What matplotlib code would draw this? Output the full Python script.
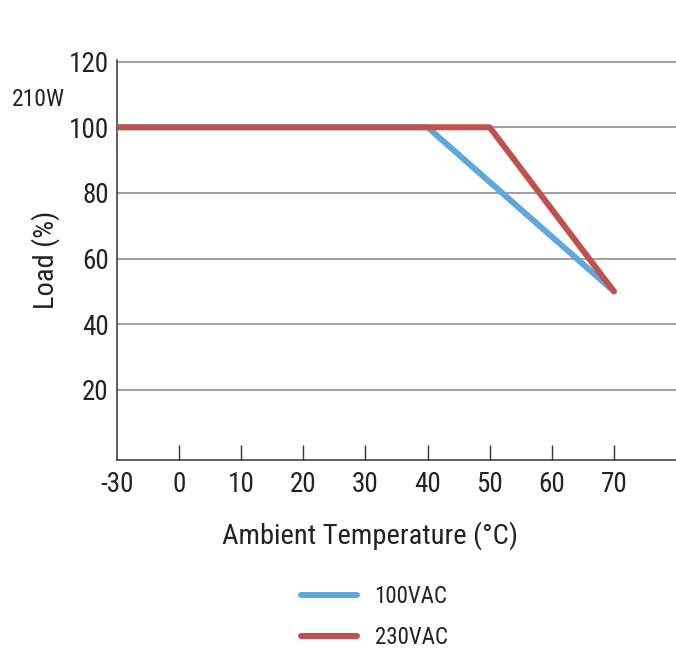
import matplotlib
matplotlib.use("Agg")
import matplotlib.pyplot as plt
import numpy as np

# Derating curve data
tick_temps = [-30, 0, 10, 20, 30, 40, 50, 60, 70]
temp_100vac = [-30, 40, 70]
load_100vac = [100, 100, 50]
temp_230vac = [-30, 50, 70]
load_230vac = [100, 100, 50]
y_ticks = [20, 40, 60, 80, 100, 120]

plt.rcParams['font.family'] = ['Roboto Condensed', 'Roboto', 'DejaVu Sans']

# The x axis is evenly spaced per tick label (-30 sits right next to 0)
tick_pos = np.arange(len(tick_temps))
def to_pos(t):
    return np.interp(t, tick_temps, tick_pos)

fig = plt.figure(figsize=(6.76, 6.49), dpi=100)
ax = fig.add_axes([117/676, 189/649, 1 - 117/676, (460 - 60)/649])

blue = "#5DA9DD"
red = "#C0504D"
ax.plot(to_pos(temp_100vac), load_100vac, color=blue, lw=4.3, label="100VAC",
        solid_capstyle='round', zorder=3)
ax.plot(to_pos(temp_230vac), load_230vac, color=red, lw=4.3, label="230VAC",
        solid_capstyle='round', zorder=4)

ax.set_xlim(0, 9)
ax.set_ylim(-1.4, 120.5)

ax.set_xticks(tick_pos)
ax.set_xticklabels([str(t) for t in tick_temps])
ax.set_yticks(y_ticks)
ax.set_yticklabels([str(v) for v in y_ticks])

ax.tick_params(axis='x', direction='in', length=11, width=1, color="#333333",
               labelsize=19.5, labelcolor="#222222", pad=8)
ax.tick_params(axis='y', length=0, labelsize=19.5, labelcolor="#222222", pad=6)
# no tick mark at -30, it sits on the left spine
ax.xaxis.get_major_ticks()[0].tick1line.set_visible(False)

ax.yaxis.grid(True, color="#888888", lw=1.1)
ax.set_axisbelow(True)
for s in ['top', 'right']:
    ax.spines[s].set_visible(False)
for s in ['left', 'bottom']:
    ax.spines[s].set_color("#333333")
    ax.spines[s].set_linewidth(1.1)

ax.set_ylabel("Load (%)", fontsize=20.5, color="#222222", labelpad=6)
ax.set_xlabel("Ambient Temperature (°C)", fontsize=20.5, color="#222222")
ax.xaxis.set_label_coords(0.4526, -0.152)

fig.text(12/676, 1 - 100/649, "210W", fontsize=17, va='center', ha='left', color="#222222")

fig.legend(loc='upper left', bbox_to_anchor=(292/676, 1 - 576/649), frameon=False,
           fontsize=16.5, handlelength=2.45, handletextpad=0.75, labelspacing=0.78,
           borderaxespad=0, labelcolor="#222222")

fig.savefig("out.png", dpi=100)
